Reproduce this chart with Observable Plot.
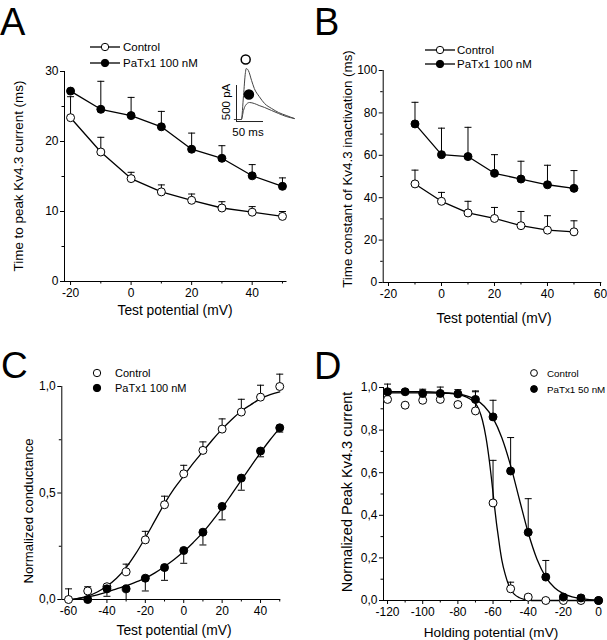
<!DOCTYPE html>
<html><head><meta charset="utf-8">
<script src="https://cdn.jsdelivr.net/npm/d3@7"></script>
<script src="https://cdn.jsdelivr.net/npm/@observablehq/plot@0.6"></script>
<style>
html,body{margin:0;padding:0;background:#fff;}
#root{position:relative;width:607px;height:640px;overflow:hidden;background:#fff;font-family:'Liberation Sans',Arial,Helvetica,sans-serif;}
#root svg{position:absolute;}
</style></head><body><div id="root"></div>
<script>
// ---------- Panel A: time to peak ----------
const vA = [-20,-10,0,10,20,30,40,50];
const ctrlA = [23.4,18.5,14.7,12.8,11.6,10.5,9.9,9.3];
const ctrlAErr = [3.0,2.1,0.9,1.0,0.9,0.9,0.8,0.7];
const patxA = [27.2,24.6,23.7,22.1,18.9,17.6,15.1,13.6];
const patxAErr = [0,4.0,2.6,2.2,2.3,1.8,1.6,1.2];
// inset traces (ms, pA)
const insetCtrlT = [-4,9,13,16.5,18,22,28,33,42,52,65,78,92,107];
const insetCtrlI = [0,0,333,650,708,680,540,430,320,222,153,97,56,14];
const insetPatxT = [-4,9,13,16.5,24,33,42,52,65,78,92,107];
const insetPatxI = [0,0,125,194,236,222,194,167,125,83,42,14];
const insetBarT = [0,50];     // 50 ms
const insetBarI = [-28,472];  // 500 pA
const insetMarkT = [17,23];
const insetMarkI = [833,347];

// ---------- Panel B: inactivation time constant ----------
const vB = [-10,0,10,20,30,40,50];
const ctrlB = [46.5,38.3,32.8,30.2,26.8,24.7,23.9];
const ctrlBErr = [6.5,4.2,5.5,5.2,6.7,6.8,5.2];
const patxB = [74.8,60.3,59.4,51.5,48.8,46.1,44.4];
const patxBErr = [10.2,12.5,13.8,8.8,8.4,9.2,8.4];

// ---------- Panel C: normalized conductance ----------
const vC = [-60,-50,-40,-30,-20,-10,0,10,20,30,40,50];
const ctrlC = [0.0,0.04,0.06,0.13,0.28,0.445,0.59,0.70,0.80,0.88,0.95,1.0];
const ctrlCErr = [0.05,0.02,0,0.036,0.04,0.04,0.04,0.04,0.048,0.06,0.056,0.058];
const vCp = [-50,-40,-30,-20,-10,0,10,20,30,40,50];
const patxC = [0.0,0.05,0.05,0.10,0.15,0.23,0.316,0.437,0.57,0.697,0.806];
const patxCErr = [0,0.035,0.05,0.06,0.06,0.06,0.06,0.063,0.057,0.027,0.02];
const fitCtrlCx = [-58,-55,-50,-45,-40,-35,-30,-25,-20,-15,-10,-5,0,5,10,15,20,25,30,35,40,45,50];
const fitCtrlCy = [0.0,0.005,0.016,0.035,0.063,0.10,0.15,0.215,0.29,0.37,0.45,0.52,0.58,0.64,0.695,0.75,0.80,0.845,0.885,0.915,0.943,0.962,0.975];
const fitPatxCx = [-58,-50,-45,-40,-35,-30,-25,-20,-15,-10,-5,0,5,10,15,20,25,30,35,40,45,50];
const fitPatxCy = [0.0,0.012,0.022,0.035,0.05,0.065,0.082,0.10,0.125,0.155,0.188,0.225,0.268,0.315,0.37,0.43,0.495,0.56,0.625,0.69,0.75,0.805];

// ---------- Panel D: steady-state inactivation ----------
const vD = [-120,-110,-100,-90,-80,-70,-60,-50,-40,-30,-20,-10,0];
const ctrlD = [0.944,0.917,0.94,0.944,0.92,0.89,0.458,0.055,0.016,0,0,0,0];
const ctrlDErr = [0,0,0,0,0,0.09,0.2,0.031,0.01,0,0,0,0];
const patxD = [0.98,0.98,0.972,0.972,0.97,0.944,0.862,0.608,0.32,0.11,0.016,0.012,0];
const patxDErr = [0.036,0.01,0.02,0.03,0.02,0.04,0.078,0.157,0.158,0.078,0.008,0.012,0];
const fitCtrlDx = [-120,-100,-90,-85,-80,-75,-72,-70,-68,-66,-64,-62,-61,-60,-59,-58,-57,-56,-55,-53,-51,-50,-48,-45,-42,-38,0];
const fitCtrlDy = [0.975,0.975,0.974,0.972,0.968,0.955,0.94,0.925,0.895,0.845,0.765,0.65,0.58,0.505,0.43,0.36,0.30,0.24,0.19,0.12,0.07,0.052,0.03,0.013,0.005,0.0,0.0];
const fitPatxDx = [-120,-100,-90,-80,-75,-70,-65,-60,-55,-50,-45,-40,-35,-30,-25,-20,-15,-10,-5,0];
const fitPatxDy = [0.98,0.98,0.977,0.97,0.961,0.944,0.912,0.856,0.764,0.633,0.474,0.318,0.194,0.11,0.06,0.032,0.017,0.009,0.004,0.002];

const FONT = "'Liberation Sans', Arial, Helvetica, sans-serif";
const root = document.getElementById("root");
const cap = {draw(ctx){ ctx.moveTo(-3.5,0); ctx.lineTo(3.5,0); }};
const comma = d => d.toFixed(1).replace(".", ",");
const rows = (xs, ys) => xs.map((x,i)=>({x, y: ys[i]}));

function errMarks(xs, ys, errs, dir){
  const r = xs.map((x,i)=>({x, y: ys[i], e: ys[i] + dir*errs[i], k: errs[i]})).filter(d => d.k > 0);
  return [
    Plot.ruleX(r, {x:"x", y1:"y", y2:"e", stroke:"#000", strokeWidth:1}),
    Plot.dot(r, {x:"x", y:"e", symbol: cap, stroke:"#000", strokeWidth:1})
  ];
}
function dots(xs, ys, filled){
  return Plot.dot(rows(xs, ys), {x:"x", y:"y", r:4, fill: filled ? "#000" : "#fff", stroke:"#000", strokeWidth:1});
}
function conn(xs, ys, curve){
  return Plot.line(rows(xs, ys), {x:"x", y:"y", stroke:"#000", strokeWidth:1.3, curve: curve || "linear"});
}

function panel(c){
  const p = Plot.plot({
    width: c.w, height: c.h,
    marginLeft: c.ml, marginRight: c.mr, marginTop: c.mt, marginBottom: c.mb,
    x: {domain: c.xd}, y: {domain: c.yd},
    style: {fontFamily: FONT, fontSize: "12px", color: "#000", background: "transparent", overflow: "visible"},
    marks: [
      Plot.ruleX([{x: c.xd[0], y1: c.yd[0], y2: c.yd[1]}], {x:"x", y1:"y1", y2:"y2", stroke:"#000", strokeWidth:1}),
      Plot.ruleY([{y: c.yd[0], x1: c.xd[0], x2: c.xd[1]}], {y:"y", x1:"x1", x2:"x2", stroke:"#000", strokeWidth:1}),
      Plot.axisX({ticks: c.xMaj, tickSize: 4, tickPadding: 3, tickFormat: d => String(d), label: null, stroke:"#000", fill:"#000"}),
      Plot.axisX({ticks: c.xMin, tickSize: 2.5, tickFormat: () => "", label: null, stroke:"#000"}),
      Plot.axisY({ticks: c.yMaj, tickSize: 4, tickPadding: 2, tickFormat: c.fy || (d => String(d)), label: null, stroke:"#000", fill:"#000"}),
      Plot.axisY({ticks: c.yMin, tickSize: 2.5, tickFormat: () => "", label: null, stroke:"#000"}),
      ...c.marks
    ]
  });
  p.style.left = c.left + "px";
  p.style.top = c.top + "px";
  root.appendChild(p);
}

// Panel A
panel({left:0, top:0, w:300, h:310, ml:64, mr:13.5, mt:71, mb:29,
  xd:[-22,51.5], yd:[0,30],
  xMaj:[-20,0,20,40], xMin:[-10,10,30,50], yMaj:[0,10,20,30], yMin:[5,15,25],
  marks:[
    conn(vA, ctrlA), conn(vA, patxA),
    ...errMarks(vA, ctrlA, ctrlAErr, 1), ...errMarks(vA, patxA, patxAErr, 1),
    dots(vA, ctrlA, false), dots(vA, patxA, true)
  ]});

// Inset of A (t = 0 ms at x = 236, 0 pA at y = 119)
(function(){
  const p = Plot.plot({
    width: 75, height: 80, marginLeft: 11, marginRight: 10, marginTop: 33, marginBottom: 11,
    x: {domain:[0,100], axis: null}, y: {domain:[0,500], axis: null},
    style: {background:"transparent", overflow:"visible"},
    marks: [
      Plot.line(rows(insetCtrlT, insetCtrlI), {x:"x", y:"y", stroke:"#444", strokeWidth:1, curve:"monotone-x"}),
      Plot.line(rows(insetPatxT, insetPatxI), {x:"x", y:"y", stroke:"#444", strokeWidth:1, curve:"monotone-x"}),
      Plot.ruleY([{y: insetBarI[0], x1: insetBarT[0], x2: insetBarT[1]}], {y:"y", x1:"x1", x2:"x2", stroke:"#222", strokeWidth:1}),
      Plot.ruleX([{x: insetBarT[0], y1: insetBarI[0], y2: insetBarI[1]}], {x:"x", y1:"y1", y2:"y2", stroke:"#222", strokeWidth:1}),
      Plot.dot([{x: insetMarkT[0], y: insetMarkI[0]}], {x:"x", y:"y", r:4.5, fill:"#fff", stroke:"#000"}),
      Plot.dot([{x: insetMarkT[1], y: insetMarkI[1]}], {x:"x", y:"y", r:4.5, fill:"#000", stroke:"#000"})
    ]
  });
  p.style.left = "225px"; p.style.top = "50px";
  root.appendChild(p);
})();

// Panel B
panel({left:300, top:0, w:307, h:310, ml:82.7, mr:5.7, mt:70, mb:28,
  xd:[-22,60.5], yd:[0,100],
  xMaj:[-20,0,20,40,60], xMin:[-10,10,30,50], yMaj:[0,20,40,60,80,100], yMin:[10,30,50,70,90],
  marks:[
    conn(vB, ctrlB), conn(vB, patxB),
    ...errMarks(vB, ctrlB, ctrlBErr, 1), ...errMarks(vB, patxB, patxBErr, 1),
    dots(vB, ctrlB, false), dots(vB, patxB, true)
  ]});

// Panel C
panel({left:0, top:310, w:300, h:310, ml:61.3, mr:19.8, mt:76, mb:21,
  xd:[-63.5,50.5], yd:[0,1],
  xMaj:[-60,-40,-20,0,20,40], xMin:[-50,-30,-10,10,30,50], yMaj:[0,0.5,1], yMin:[0.25,0.75], fy: comma,
  marks:[
    conn(fitCtrlCx, fitCtrlCy, "monotone-x"), conn(fitPatxCx, fitPatxCy, "monotone-x"),
    ...errMarks(vC, ctrlC, ctrlCErr, 1), ...errMarks(vCp, patxC, patxCErr, -1),
    dots(vC, ctrlC, false), dots(vCp, patxC, true)
  ]});

// Panel D
panel({left:300, top:310, w:307, h:310, ml:83, mr:7.2, mt:77, mb:20,
  xd:[-122.3,1], yd:[0,1],
  xMaj:[-120,-100,-80,-60,-40,-20,0], xMin:[-110,-90,-70,-50,-30,-10], yMaj:[0,0.2,0.4,0.6,0.8,1], yMin:[0.1,0.3,0.5,0.7,0.9], fy: comma,
  marks:[
    conn(fitCtrlDx, fitCtrlDy, "monotone-x"), conn(fitPatxDx, fitPatxDy, "monotone-x"),
    ...errMarks(vD, ctrlD, ctrlDErr, 1), ...errMarks(vD, patxD, patxDErr, 1),
    dots(vD, ctrlD, false), dots(vD, patxD, true)
  ]});

// ---------- overlay: letters, axis titles, legends ----------
const NS = "http://www.w3.org/2000/svg";
const ov = document.createElementNS(NS, "svg");
ov.setAttribute("width", 607); ov.setAttribute("height", 640);
ov.style.left = "0px"; ov.style.top = "0px";
ov.setAttribute("font-family", FONT);
function txt(s, x, y, size, opts){
  opts = opts || {};
  const t = document.createElementNS(NS, "text");
  t.textContent = s;
  t.setAttribute("font-size", size);
  t.setAttribute("fill", "#000");
  if (opts.rot) {
    t.setAttribute("transform", `translate(${x},${y}) rotate(-90)`);
    t.setAttribute("text-anchor", "middle");
    t.setAttribute("dy", "0.35em");
  } else {
    t.setAttribute("x", x); t.setAttribute("y", y);
    if (opts.anchor) t.setAttribute("text-anchor", opts.anchor);
  }
  ov.appendChild(t);
}
function sym(cx, cy, filled, line, r){
  if (line) {
    const l = document.createElementNS(NS, "line");
    l.setAttribute("x1", cx-15); l.setAttribute("x2", cx+15);
    l.setAttribute("y1", cy); l.setAttribute("y2", cy);
    l.setAttribute("stroke", "#000"); l.setAttribute("stroke-width", 1.3);
    ov.appendChild(l);
  }
  const c = document.createElementNS(NS, "circle");
  c.setAttribute("cx", cx); c.setAttribute("cy", cy); c.setAttribute("r", r || 3.7);
  c.setAttribute("fill", filled ? "#000" : "#fff"); c.setAttribute("stroke", "#000");
  ov.appendChild(c);
}
// letters
txt("A", 0, 35, 38); txt("B", 314, 35, 38); txt("C", 1, 378, 37); txt("D", 314, 379, 38);
// axis titles
txt("Time to peak Kv4.3 current (ms)", 18, 176, 13.4, {rot:true});
txt("Test potential (mV)", 175, 315, 13.8, {anchor:"middle"});
txt("Time constant of Kv4.3 inactivation (ms)", 347, 169, 13.4, {rot:true});
txt("Test potential (mV)", 494, 323, 13.8, {anchor:"middle"});
txt("Normalized conductance", 28, 511, 13.2, {rot:true});
txt("Test potential (mV)", 174, 635, 13.8, {anchor:"middle"});
txt("Normalized Peak Kv4.3 current", 347, 492, 14.5, {rot:true});
txt("Holding potential (mV)", 491, 637, 13.6, {anchor:"middle"});
// legends
sym(105, 47, false, true); txt("Control", 123, 51, 11.5);
sym(105, 63, true, true); txt("PaTx1 100 nM", 123, 67, 11.5);
sym(440, 50, false, true); txt("Control", 457, 54, 11.5);
sym(440, 64, true, true); txt("PaTx1 100 nM", 457, 68, 11.5);
sym(97, 373, false, false); txt("Control", 115, 377, 11);
sym(97, 388, true, false); txt("PaTx1 100 nM", 115, 392, 11);
sym(534, 373, false, false, 3.4); txt("Control", 547, 377, 9.8);
sym(534, 389, true, false, 3.4); txt("PaTx1 50 nM", 547, 393, 9.8);
// inset labels
txt("500 pA", 226, 102, 11.5, {rot:true});
txt("50 ms", 248, 136, 11.5, {anchor:"middle"});
root.appendChild(ov);
</script></body></html>
